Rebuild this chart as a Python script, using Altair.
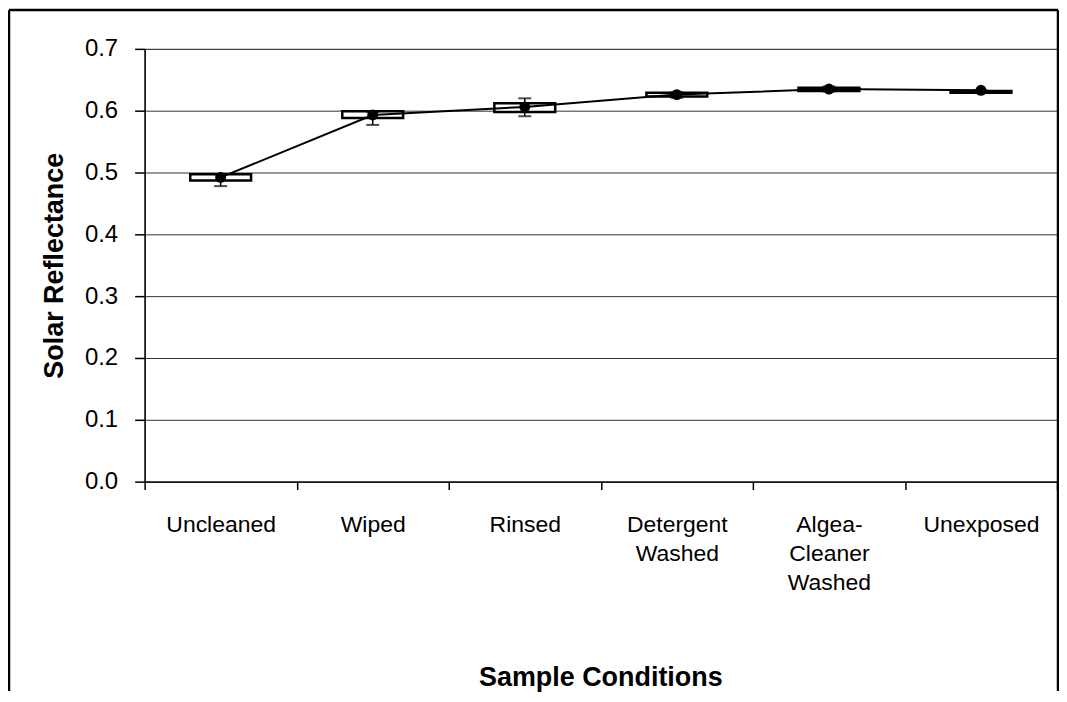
import altair as alt
import pandas as pd

categories = ["Uncleaned", "Wiped", "Rinsed", "Detergent Washed", "Algea-Cleaner Washed", "Unexposed"]
means = [0.492, 0.593, 0.606, 0.626, 0.635, 0.633]
box_low = [0.487, 0.588, 0.598, 0.623, 0.632, 0.629]
box_high = [0.497, 0.599, 0.612, 0.629, 0.637, 0.632]
whisker_low = [0.478, 0.577, 0.591, 0.621, 0.631, 0.629]
whisker_high = [0.497, 0.598, 0.620, 0.630, 0.639, 0.633]
y_ticks = [0.0, 0.1, 0.2, 0.3, 0.4, 0.5, 0.6, 0.7]

df = pd.DataFrame({
    "cond": categories,
    "mean": means,
    "blo": box_low,
    "bhi": box_high,
    "wlo": whisker_low,
    "whi": whisker_high,
})

W, H = 915, 434
PAD = {"left": 137, "top": 40, "right": 2, "bottom": 210}
FONT = "Liberation Sans"

x_enc = alt.X(
    "cond:N",
    sort=categories,
    scale=alt.Scale(paddingInner=0, paddingOuter=0),
    axis=alt.Axis(
        title="Sample Conditions",
        titleFontSize=27,
        titleFontWeight="bold",
        titleFont=FONT,
        titleColor="black",
        titleX=457,
        titleY=196,
        titleAlign="center",
        titleBaseline="middle",
        labelAngle=0,
        labelFontSize=23,
        labelFont=FONT,
        labelColor="black",
        labelPadding=24,
        labelLineHeight=29,
        labelExpr="datum.label == 'Algea-Cleaner Washed' ? ['Algea-', 'Cleaner', 'Washed'] : split(datum.label, ' ')",
        tickSize=8,
        tickColor="black",
        tickWidth=1.5,
        tickBand="extent",
        domainColor="black",
        domainWidth=1.5,
        grid=False,
    ),
)

y_scale = alt.Scale(domain=[0, 0.7], nice=False, zero=True)
y_axis = alt.Axis(
    title="Solar Reflectance",
    titleFontSize=27,
    titleFontWeight="bold",
    titleFont=FONT,
    titleColor="black",
    titleX=-90,
    titleY=H / 2,
    titleAngle=-90,
    titleAlign="center",
    titleBaseline="middle",
    values=y_ticks,
    format=".1f",
    labelFontSize=24,
    labelFont=FONT,
    labelColor="black",
    labelPadding=17,
    tickSize=10,
    tickColor="black",
    tickWidth=1.5,
    domainColor="black",
    domainWidth=1.5,
    grid=True,
    gridColor="#333333",
    gridWidth=1,
)

base = alt.Chart(df)

boxes = base.mark_bar(size=61, fill="white", stroke="black", strokeWidth=2.5).encode(
    x=x_enc,
    y=alt.Y("blo:Q", scale=y_scale, axis=y_axis),
    y2="bhi:Q",
)

whiskers = base.mark_rule(color="black", strokeWidth=1.5).encode(
    x=alt.X("cond:N", sort=categories),
    y="wlo:Q",
    y2="whi:Q",
)

cap_lo = base.mark_tick(color="black", size=13, thickness=2).encode(
    x=alt.X("cond:N", sort=categories),
    y="wlo:Q",
)
cap_hi = base.mark_tick(color="black", size=13, thickness=2).encode(
    x=alt.X("cond:N", sort=categories),
    y="whi:Q",
)

line = base.mark_line(color="black", strokeWidth=2).encode(
    x=alt.X("cond:N", sort=categories),
    y="mean:Q",
)
points = base.mark_point(filled=True, color="black", size=120, opacity=1, shape="circle").encode(
    x=alt.X("cond:N", sort=categories),
    y="mean:Q",
)

# outer chart frame (left, top, right edges; bottom edge falls outside the window)
edge_df = pd.DataFrame({"k": [0]})
frame_left = alt.Chart(edge_df).mark_rule(color="black", strokeWidth=2.5).encode(
    x=alt.value(-PAD["left"] + 1),
    y=alt.value(-PAD["top"] + 1),
    y2=alt.value(H + PAD["bottom"]),
)
frame_right = alt.Chart(edge_df).mark_rule(color="black", strokeWidth=2.5).encode(
    x=alt.value(W + PAD["right"] - 1),
    y=alt.value(-PAD["top"] + 1),
    y2=alt.value(H + PAD["bottom"]),
)
frame_top = alt.Chart(edge_df).mark_rule(color="black", strokeWidth=2.5).encode(
    x=alt.value(-PAD["left"] + 1),
    x2=alt.value(W + PAD["right"] - 1),
    y=alt.value(-PAD["top"] + 1),
)

chart = alt.layer(
    boxes, whiskers, cap_lo, cap_hi, line, points, frame_left, frame_right, frame_top
).properties(
    width=W,
    height=H,
    padding=PAD,
    autosize=alt.AutoSizeParams(type="none"),
    background="white",
).configure_view(
    stroke="#808080",
    strokeWidth=1,
)

chart.save("out.html", embed_options={"renderer": "svg", "actions": False})
